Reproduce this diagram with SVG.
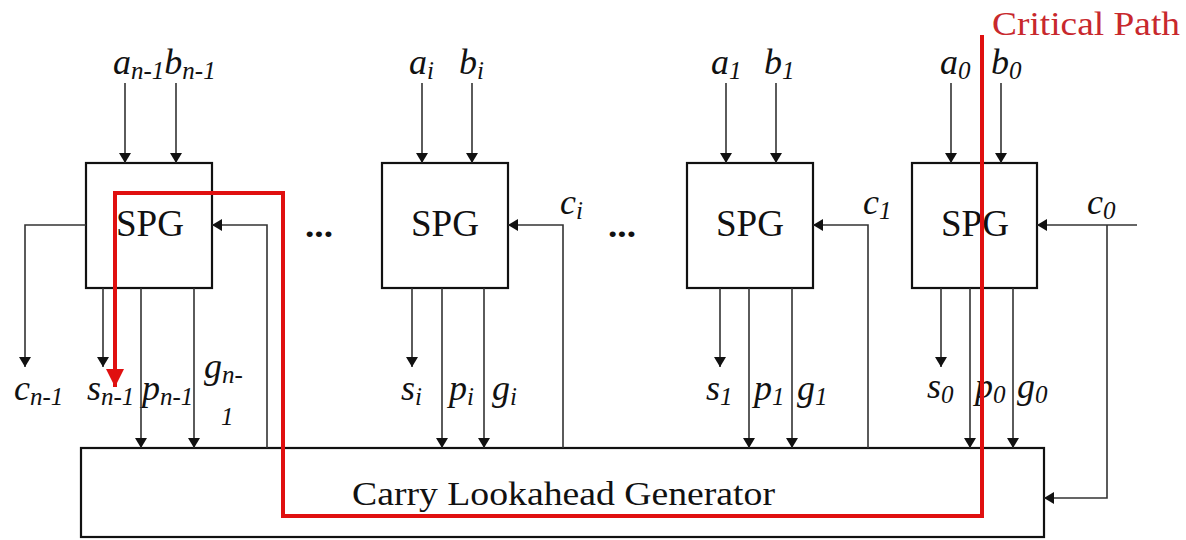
<svg xmlns="http://www.w3.org/2000/svg" width="1186" height="540" viewBox="0 0 1186 540">
<defs>
<marker id="ah" viewBox="0 0 10 12" refX="10" refY="6" markerWidth="10" markerHeight="12" markerUnits="userSpaceOnUse" orient="auto">
<path d="M0,0 L10,6 L0,12 Z" fill="#111"/>
</marker>
<marker id="rah" viewBox="0 0 18 18" refX="18" refY="9" markerWidth="18" markerHeight="18" markerUnits="userSpaceOnUse" orient="auto">
<path d="M0,0 L18,9 L0,18 Z" fill="#e01010"/>
</marker>
</defs>
<style>
.box{fill:#fff;stroke:#111;stroke-width:2.2}
.wa{fill:none;stroke:#333;stroke-width:1.6;marker-end:url(#ah)}
.t{font-family:"Liberation Serif","Times New Roman",serif;fill:#111}
.spg{font-size:37px}
.lb{font-family:"Liberation Serif","Times New Roman",serif;font-style:italic;font-size:36px;fill:#111}
.sb{font-size:25px}
.red{fill:none;stroke:#e01010;stroke-width:4}
</style>
<rect width="1186" height="540" fill="#fff"/>

<g id="clg">
<rect class="box" x="81" y="448" width="963" height="89"/>
<text class="t" x="352" y="505" font-size="34" textLength="423" lengthAdjust="spacingAndGlyphs">Carry Lookahead Generator</text>
</g>

<g id="spg-n1">
<rect class="box" x="86" y="163" width="126" height="125"/>
<text class="t spg" x="116" y="236" textLength="68" lengthAdjust="spacingAndGlyphs">SPG</text>
</g>
<g id="spg-i">
<rect class="box" x="382" y="163" width="126" height="125"/>
<text class="t spg" x="411" y="236" textLength="68" lengthAdjust="spacingAndGlyphs">SPG</text>
</g>
<g id="spg-1">
<rect class="box" x="687" y="163" width="126" height="125"/>
<text class="t spg" x="716" y="236" textLength="68" lengthAdjust="spacingAndGlyphs">SPG</text>
</g>
<g id="spg-0">
<rect class="box" x="912" y="163" width="125" height="125"/>
<text class="t spg" x="941" y="236" textLength="68" lengthAdjust="spacingAndGlyphs">SPG</text>
</g>

<g id="labels">
<text class="lb" x="113" y="74">a<tspan class="sb" dy="5">n-1</tspan><tspan dy="-5">b</tspan><tspan class="sb" dy="5">n-1</tspan></text>
<text class="lb" x="409" y="74">a<tspan class="sb" dy="5">i</tspan></text>
<text class="lb" x="459" y="74">b<tspan class="sb" dy="5">i</tspan></text>
<text class="lb" x="711" y="74">a<tspan class="sb" dy="5">1</tspan></text>
<text class="lb" x="764" y="74">b<tspan class="sb" dy="5">1</tspan></text>
<text class="lb" x="940" y="74">a<tspan class="sb" dy="5">0</tspan></text>
<text class="lb" x="991" y="74">b<tspan class="sb" dy="5">0</tspan></text>

<text class="lb" x="560" y="214">c<tspan class="sb" dy="5">i</tspan></text>
<text class="lb" x="863" y="214">c<tspan class="sb" dy="5">1</tspan></text>
<text class="lb" x="1087" y="214">c<tspan class="sb" dy="5">0</tspan></text>

<text class="lb" x="14" y="400">c<tspan class="sb" dy="5">n-1</tspan></text>
<text class="lb" x="87" y="400">s<tspan class="sb" dy="5">n-1</tspan></text>
<text class="lb" x="142" y="400">p<tspan class="sb" dy="5">n-1</tspan></text>
<text class="lb" x="204" y="378">g<tspan class="sb" dy="5">n-</tspan></text>
<text class="lb sb" x="221" y="425">1</text>
<text class="lb" x="401" y="400">s<tspan class="sb" dy="5">i</tspan></text>
<text class="lb" x="449" y="400">p<tspan class="sb" dy="5">i</tspan></text>
<text class="lb" x="492" y="400">g<tspan class="sb" dy="5">i</tspan></text>
<text class="lb" x="706" y="400">s<tspan class="sb" dy="5">1</tspan></text>
<text class="lb" x="754" y="400">p<tspan class="sb" dy="5">1</tspan></text>
<text class="lb" x="797" y="400">g<tspan class="sb" dy="5">1</tspan></text>
<text class="lb" x="927" y="398">s<tspan class="sb" dy="5">0</tspan></text>
<text class="lb" x="975" y="398">p<tspan class="sb" dy="5">0</tspan></text>
<text class="lb" x="1017" y="398">g<tspan class="sb" dy="5">0</tspan></text>

<text class="t" x="305" y="237" font-size="34" font-weight="bold" textLength="28" lengthAdjust="spacingAndGlyphs">...</text>
<text class="t" x="608" y="237" font-size="34" font-weight="bold" textLength="28" lengthAdjust="spacingAndGlyphs">...</text>

<text class="t" x="992" y="35" font-size="34" style="fill:#c8282d" textLength="188" lengthAdjust="spacingAndGlyphs">Critical Path</text>
</g>

<g id="connectors">
<line class="wa" x1="125" y1="83" x2="125" y2="163"/>
<line class="wa" x1="176" y1="83" x2="176" y2="163"/>
<line class="wa" x1="422" y1="83" x2="422" y2="163"/>
<line class="wa" x1="472" y1="83" x2="472" y2="163"/>
<line class="wa" x1="726" y1="83" x2="726" y2="163"/>
<line class="wa" x1="776" y1="83" x2="776" y2="163"/>
<line class="wa" x1="951" y1="83" x2="951" y2="163"/>
<line class="wa" x1="1001" y1="83" x2="1001" y2="163"/>
<polyline class="wa" points="86,225 25,225 25,367"/>
<line class="wa" x1="103" y1="288" x2="103" y2="367"/>
<line class="wa" x1="412" y1="288" x2="412" y2="367"/>
<line class="wa" x1="720" y1="288" x2="720" y2="367"/>
<line class="wa" x1="941" y1="288" x2="941" y2="367"/>
<line class="wa" x1="141" y1="288" x2="141" y2="448"/>
<line class="wa" x1="194" y1="288" x2="194" y2="448"/>
<line class="wa" x1="442" y1="288" x2="442" y2="448"/>
<line class="wa" x1="484" y1="288" x2="484" y2="448"/>
<line class="wa" x1="749" y1="288" x2="749" y2="448"/>
<line class="wa" x1="792" y1="288" x2="792" y2="448"/>
<line class="wa" x1="970" y1="288" x2="970" y2="448"/>
<line class="wa" x1="1013" y1="288" x2="1013" y2="448"/>
<polyline class="wa" points="267,448 267,225 212,225"/>
<polyline class="wa" points="563,448 563,225 508,225"/>
<polyline class="wa" points="868,448 868,225 813,225"/>
<line class="wa" x1="1137" y1="225" x2="1037" y2="225"/>
<polyline class="wa" points="1107,225 1107,498 1044,498"/>
<polyline class="red" points="982,35 982,516 283,516 283,193 115,193 115,387" marker-end="url(#rah)"/>
</g>
</svg>
